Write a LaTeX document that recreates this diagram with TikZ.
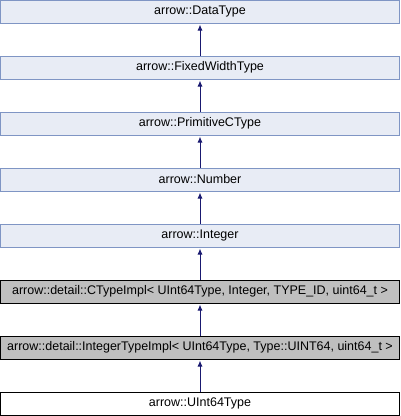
\documentclass[tikz,border=0pt]{standalone}
\usepackage{fontspec}
\setmainfont{Liberation Sans}
\usetikzlibrary{arrows.meta}
\definecolor{clsfill}{HTML}{E8ECF5}
\definecolor{clsline}{HTML}{7F95C4}
\definecolor{tplfill}{HTML}{BFBFBF}
\definecolor{inherit}{HTML}{191970}

\begin{document}
\begin{tikzpicture}[x=1pt,y=1pt,
  cls/.style={draw=clsline,fill=clsfill,line width=1pt,minimum width=399pt,minimum height=23pt,inner sep=0pt,font=\fontsize{12.5pt}{14pt}\selectfont},
  clsgray/.style={cls,draw=black,fill=tplfill},
  clsmain/.style={cls,draw=black,fill=white},
  isa/.style={draw=inherit,line width=1pt,-{Latex[length=6pt,width=5pt]}}]
  \useasboundingbox (0,0) rectangle (400,-416);
  \node[cls]     (dt)   at (200,-11.5)  {arrow::DataType};
  \node[cls]     (fwt)  at (200,-67.5)  {arrow::FixedWidthType};
  \node[cls]     (pct)  at (200,-123.5) {arrow::PrimitiveCType};
  \node[cls]     (num)  at (200,-179.5) {arrow::Number};
  \node[cls]     (int)  at (200,-235.5) {arrow::Integer};
  \node[clsgray] (ctyp) at (200,-291.5) {arrow::detail::CTypeImpl< UInt64Type, Integer, TYPE\_ID, uint64\_t >};
  \node[clsgray] (ityp) at (200,-347.5) {arrow::detail::IntegerTypeImpl< UInt64Type, Type::UINT64, uint64\_t >};
  \node[clsmain] (u64)  at (200,-403.5) {arrow::UInt64Type};
  % inheritance, child -> parent
  \foreach \c/\p in {fwt/dt,pct/fwt,num/pct,int/num,ctyp/int,ityp/ctyp,u64/ityp}
    \draw[isa] (\c.north) -- ([yshift=-1pt]\p.south);
\end{tikzpicture}
\end{document}
